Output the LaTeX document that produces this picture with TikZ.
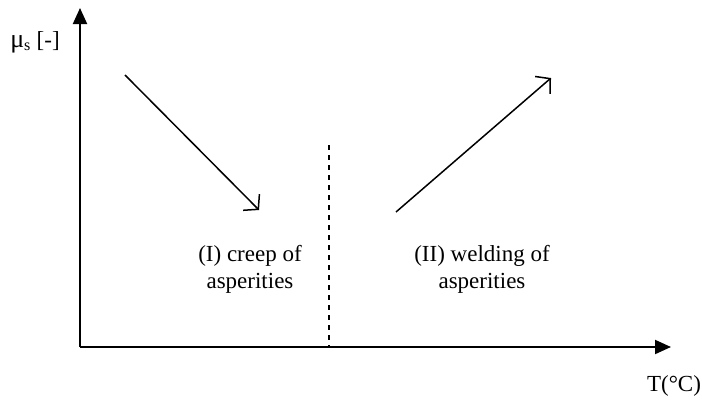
\documentclass[tikz,border=0pt]{standalone}
\usepackage{fontspec}
\setmainfont{Liberation Serif}
\usetikzlibrary{arrows.meta, positioning}

\begin{document}
\begin{tikzpicture}[x=1pt, y=-1pt,
  axis/.style={line width=2pt, -{Triangle[length=16pt, width=14pt]}},
  trend/.style={line width=1.5pt, -{Straight Barb[length=10pt, width=23pt, line width=1.5pt]}},
  zone/.style={align=center, font=\fontsize{23}{27}\selectfont},
  axlabel/.style={font=\fontsize{23}{26}\selectfont}]
  \useasboundingbox (0,0) rectangle (702,407);

  % axes
  \coordinate (o) at (80,347);
  \coordinate (ytop) at (80,8);
  \coordinate (xend) at (671,347);
  \draw[axis] (o) -- (ytop);
  \draw[axis] (o) -- (xend);
  \node[axlabel] (mu) at (35,42) {{\fontsize{26}{26}\selectfont μ}\textsubscript{s} [-]};
  \node[axlabel] (temp) at (674,386) {T(°C)};

  % boundary between regimes
  \coordinate (dtop) at (329,145);
  \coordinate (dbot) at (329,347);
  \draw[line width=1.4pt, dash pattern=on 5pt off 5pt] (dtop) -- (dbot);

  % trends
  \coordinate (a1) at (125,75);
  \coordinate (a2) at (259,210);
  \coordinate (b1) at (396,212);
  \coordinate (b2) at (551,78);
  \draw[trend] (a1) -- (a2);
  \draw[trend] (b1) -- (b2);

  \node[zone] (creep) at (250,269) {(I) creep of\\asperities};
  \node[zone] (weld) at (482,269) {(II) welding of\\asperities};
\end{tikzpicture}
\end{document}
